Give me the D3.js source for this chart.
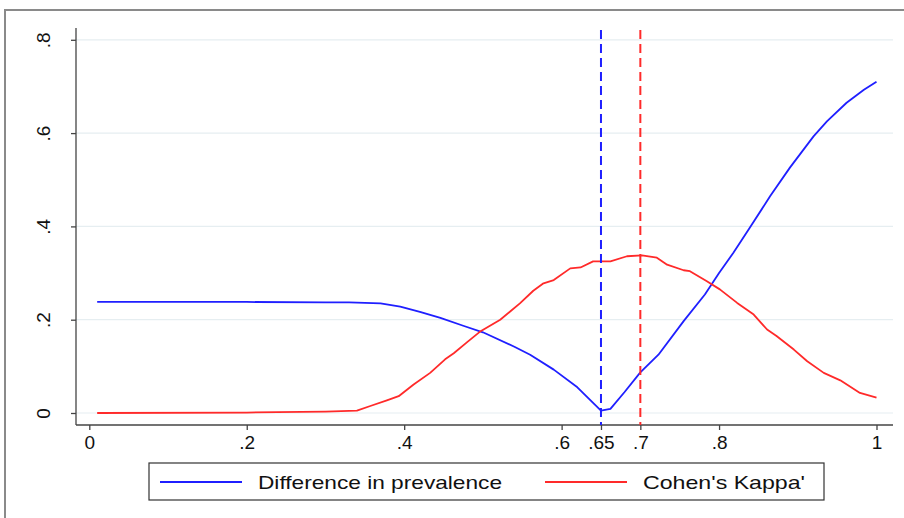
<!DOCTYPE html>
<html>
<head>
<meta charset="utf-8">
<script src="https://cdn.jsdelivr.net/npm/d3@7"></script>
<style>
  body { margin: 0; background: #fff; }
  svg { display: block; font-family: "Liberation Sans", Arial, sans-serif; }
</style>
</head>
<body>
<div id="chart"></div>
<script>
// cutoff values (x) and the two curves
const diffX = [0.01, 0.1, 0.2, 0.3, 0.33, 0.37, 0.395, 0.42, 0.446, 0.475, 0.5, 0.54, 0.56, 0.59, 0.62,
  0.65, 0.662, 0.68, 0.70, 0.723, 0.755, 0.782, 0.80, 0.818, 0.839, 0.865, 0.89, 0.92, 0.937, 0.962, 0.984, 1.0];
const diffY = [0.238, 0.238, 0.238, 0.237, 0.237, 0.235, 0.228, 0.217, 0.204, 0.187, 0.173, 0.142, 0.125, 0.093, 0.055,
  0.005, 0.009, 0.045, 0.087, 0.125, 0.197, 0.254, 0.30, 0.343, 0.397, 0.465, 0.526, 0.593, 0.625, 0.665, 0.693, 0.71];

const kappaX = [0.01, 0.2, 0.3, 0.34, 0.357, 0.378, 0.393, 0.412, 0.433, 0.452, 0.463, 0.48, 0.496, 0.522, 0.535,
  0.547, 0.564, 0.577, 0.59, 0.611, 0.624, 0.64, 0.662, 0.683, 0.702, 0.721, 0.734, 0.755, 0.763, 0.784, 0.801,
  0.823, 0.844, 0.861, 0.873, 0.895, 0.912, 0.933, 0.954, 0.979, 1.0];
const kappaY = [0.0, 0.001, 0.003, 0.005, 0.015, 0.027, 0.036, 0.061, 0.086, 0.115, 0.128, 0.152, 0.174, 0.2, 0.218,
  0.235, 0.262, 0.278, 0.285, 0.31, 0.312, 0.325, 0.325, 0.336, 0.338, 0.333, 0.318, 0.306, 0.304, 0.283, 0.265,
  0.236, 0.211, 0.179, 0.165, 0.136, 0.111, 0.086, 0.07, 0.043, 0.033];

const xTicks = [0, 0.2, 0.4, 0.6, 0.65, 0.7, 0.8, 1];
const xTickLabels = ["0", ".2", ".4", ".6", ".65", ".7", ".8", "1"];
const yTicks = [0, 0.2, 0.4, 0.6, 0.8];
const yTickLabels = ["0", ".2", ".4", ".6", ".8"];

const cutoffs = [0.65, 0.7];
const cutoffColors = ["#1f1fff", "#ff2a2a"];
const seriesNames = ["Difference in prevalence", "Cohen's Kappa'"];
const seriesColors = ["#1f1fff", "#ff2a2a"];

const W = 904, H = 518;
const svg = d3.select("#chart").append("svg").attr("width", W).attr("height", H);

// outer graph frame (runs off the right and bottom edges)
svg.append("rect")
  .attr("x", 5).attr("y", 10).attr("width", W + 10).attr("height", H + 10)
  .attr("fill", "none").attr("stroke", "#8a8a8a").attr("stroke-width", 2);

const plotL = 76, plotR = 893, plotT = 28, plotB = 425;
const x = d3.scaleLinear().domain([0, 1]).range([89.3, 876.5]);
const y = d3.scaleLinear().domain([0, 0.8]).range([413, 39.8]);

// gridlines
svg.append("g").selectAll("line").data(yTicks).join("line")
  .attr("x1", plotL).attr("x2", plotR)
  .attr("y1", d => y(d)).attr("y2", d => y(d))
  .attr("stroke", "#e6eef1").attr("stroke-width", 1.2);

// y axis, labels rotated like Stata
const yAxis = d3.axisLeft(y).tickValues(yTicks)
  .tickFormat((d, i) => yTickLabels[i]).tickSize(5).tickSizeOuter(0);
const gy = svg.append("g").attr("transform", `translate(${plotL},0)`).call(yAxis);
gy.select(".domain").attr("d", `M0,${plotT}V${plotB}`);
gy.selectAll("path, line").attr("stroke", "#444").attr("stroke-width", 1.3);
gy.selectAll("text")
  .attr("font-size", 19).attr("fill", "#111")
  .attr("text-anchor", "middle").attr("dy", null)
  .attr("x", 0).attr("y", 0)
  .attr("transform", "translate(-26,0) rotate(-90)");

// x axis
const xAxis = d3.axisBottom(x).tickValues(xTicks)
  .tickFormat((d, i) => xTickLabels[i]).tickSize(5).tickSizeOuter(0);
const gx = svg.append("g").attr("transform", `translate(0,${plotB})`).call(xAxis);
gx.select(".domain").attr("d", `M${plotL},0H${plotR}`);
gx.selectAll("path, line").attr("stroke", "#444").attr("stroke-width", 1.3);
gx.selectAll("text").attr("font-size", 19).attr("fill", "#111").attr("y", 11).attr("dy", "0.71em");

// curves
const line = d3.line().x(d => x(d[0])).y(d => y(d[1]));
const series = [d3.zip(diffX, diffY), d3.zip(kappaX, kappaY)];
svg.append("g").selectAll("path").data(series).join("path")
  .attr("d", line)
  .attr("fill", "none")
  .attr("stroke", (d, i) => seriesColors[i])
  .attr("stroke-width", 1.8)
  .attr("stroke-linejoin", "round");

// dashed cutoff lines
svg.append("g").selectAll("line").data(cutoffs).join("line")
  .attr("x1", d => x(d)).attr("x2", d => x(d))
  .attr("y1", 30).attr("y2", plotB)
  .attr("stroke", (d, i) => cutoffColors[i])
  .attr("stroke-width", 2)
  .attr("stroke-dasharray", "9,5");

// legend
const leg = svg.append("g");
leg.append("rect").attr("x", 149).attr("y", 463).attr("width", 675).attr("height", 37)
  .attr("fill", "#fff").attr("stroke", "#333").attr("stroke-width", 1.2);
const items = leg.selectAll("g.item").data(seriesNames).join("g")
  .attr("transform", (d, i) => `translate(${[160, 545][i]},482)`);
items.append("line").attr("x1", 0).attr("x2", 82).attr("y1", 0).attr("y2", 0)
  .attr("stroke", (d, i) => seriesColors[i]).attr("stroke-width", 1.8);
items.append("text").attr("x", 98).attr("y", 7)
  .attr("font-size", 19).attr("fill", "#111")
  .attr("textLength", (d, i) => [244, 162][i])
  .attr("lengthAdjust", "spacingAndGlyphs")
  .text(d => d);
</script>
</body>
</html>
